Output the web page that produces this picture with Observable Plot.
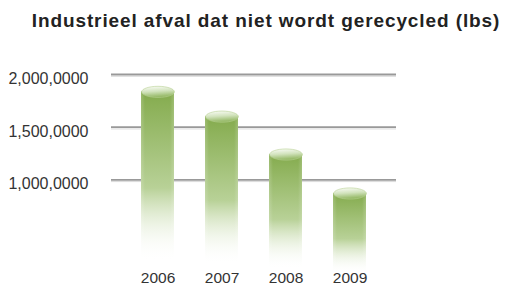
<!DOCTYPE html>
<html>
<head>
<meta charset="utf-8">
<script src="https://cdn.jsdelivr.net/npm/d3@7"></script>
<script src="https://cdn.jsdelivr.net/npm/@observablehq/plot@0.6"></script>
<style>
  html, body { margin: 0; padding: 0; background: #fff; }
  body { width: 505px; height: 285px; overflow: hidden; font-family: "Liberation Sans", Arial, Helvetica, sans-serif; }
  #title { box-sizing: border-box; height: 45px; padding-top: 11px; padding-left: 27px; text-align: center;
           font-size: 19px; line-height: 20px; font-weight: bold; color: #222; white-space: nowrap; letter-spacing: 0.9px; }
</style>
</head>
<body>
<div id="title">Industrieel afval dat niet wordt gerecycled (lbs)</div>
<div id="chart"></div>
<script>
const years = ["2006", "2007", "2008", "2009"];
const waste = [1835000, 1600000, 1240000, 870000];
const yTicks = [1000000, 1500000, 2000000];
const yTickLabels = ["1,000,0000", "1,500,0000", "2,000,0000"];

const data = years.map((year, i) => ({year, value: waste[i]}));

const ns = "http://www.w3.org/2000/svg";
function defs() {
  const g = document.createElementNS(ns, "g");
  g.innerHTML = `<defs>
    <linearGradient id="barGrad" x1="0" y1="0" x2="0" y2="1">
      <stop offset="0" stop-color="#84ab4d"/>
      <stop offset="0.5" stop-color="#b8d197"/>
      <stop offset="0.88" stop-color="#ffffff" stop-opacity="0"/>
    </linearGradient>
    <linearGradient id="sideGrad" x1="0" y1="0" x2="1" y2="0">
      <stop offset="0" stop-color="#ffffff" stop-opacity="0.18"/>
      <stop offset="0.12" stop-color="#ffffff" stop-opacity="0"/>
      <stop offset="0.88" stop-color="#ffffff" stop-opacity="0"/>
      <stop offset="1" stop-color="#ffffff" stop-opacity="0.18"/>
    </linearGradient>
    <linearGradient id="capGrad" x1="0.35" y1="0" x2="0.55" y2="1">
      <stop offset="0" stop-color="#f7faf2"/>
      <stop offset="0.45" stop-color="#d2e3bd"/>
      <stop offset="1" stop-color="#8db35a"/>
    </linearGradient>
  </defs>`;
  return g;
}

const ellipseSymbol = {
  draw(context, size) {
    const rx = Math.sqrt(size / Math.PI);
    const ry = rx * 0.34;
    const k = 0.5522847498;
    context.moveTo(rx, 0);
    context.bezierCurveTo(rx, ry * k, rx * k, ry, 0, ry);
    context.bezierCurveTo(-rx * k, ry, -rx, ry * k, -rx, 0);
    context.bezierCurveTo(-rx, -ry * k, -rx * k, -ry, 0, -ry);
    context.bezierCurveTo(rx * k, -ry, rx, -ry * k, rx, 0);
    context.closePath();
  }
};

const chart = Plot.plot({
  width: 505,
  height: 240,
  marginLeft: 111,
  marginRight: 109,
  marginTop: 0,
  marginBottom: 20,
  style: {fontFamily: "'Liberation Sans', Arial, Helvetica, sans-serif", color: "#333", background: "transparent"},
  x: {domain: years, range: [109, 398], padding: 0.49, label: null},
  y: {domain: [0, 2000000], range: [239.6, 29], label: null},
  marks: [
    defs,
    Plot.ruleY(yTicks, {stroke: "#dadada", strokeWidth: 1, dy: 1.8}),
    Plot.ruleY(yTicks, {stroke: "#999999", strokeWidth: 1.8}),
    Plot.barY(data, {x: "year", y: "value", fill: "url(#barGrad)"}),
    Plot.barY(data, {x: "year", y: "value", fill: "url(#sideGrad)"}),
    Plot.dot(data, {x: "year", y: "value", r: 16.4, symbol: ellipseSymbol, fill: "url(#capGrad)", stroke: "#b7d092", strokeWidth: 0.6}),
    Plot.axisY({ticks: yTicks, tickFormat: d => yTickLabels[yTicks.indexOf(d)], tickSize: 0, tickPadding: 23, fontSize: 16, dy: 4.5, label: null, style: {letterSpacing: "0.3px"}}),
    Plot.axisX({tickSize: 0, tickPadding: 6, fontSize: 15.5, label: null})
  ]
});
document.getElementById("chart").appendChild(chart);
</script>
</body>
</html>
